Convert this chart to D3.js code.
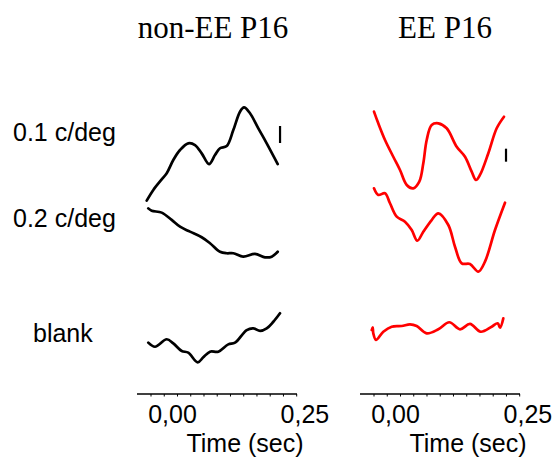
<!DOCTYPE html>
<html><head><meta charset="utf-8">
<script src="https://cdn.jsdelivr.net/npm/d3@7"></script>
<style>html,body{margin:0;padding:0;background:#fff;}</style>
</head><body>
<svg id="c" width="555" height="458"></svg>
<script>
// ---- data (time in s, amplitude in µV) ----
const panelTitles = ["non-EE P16", "EE P16"];
const rowLabels = ["0.1 c/deg", "0.2 c/deg", "blank"];
const tickLabels = ["0,00", "0,25"];
const tickValues = [0, 0.25];
const axisTitle = "Time (sec)";
const scaleBarUV = 10;

const nonEE_01 = [[-0.0487,-23.9],[-0.0362,-17.6],[-0.0204,-11.4],[-0.0109,-7.8],[0.0015,0],[0.0142,5.9],[0.0298,9.8],[0.0425,8.8],[0.0551,3.9],[0.0689,-2.4],[0.0802,2.9],[0.0897,6.9],[0.1023,8.2],[0.1148,17.6],[0.1274,28.4],[0.1350,31.0],[0.1463,27.5],[0.1620,18.6],[0.1778,9.8],[0.1986,-2.4]];
const nonEE_02 = [[-0.0457,13.9],[-0.0393,12.5],[-0.0204,11.4],[-0.0015,7.1],[0.0142,3.1],[0.0330,0.2],[0.0551,-3.1],[0.0708,-6.6],[0.0897,-11.6],[0.1023,-12.5],[0.1148,-12.5],[0.1336,-14.5],[0.1557,-12.9],[0.1746,-14.9],[0.1873,-14.5],[0.1986,-11.6]];
const nonEE_blank = [[-0.0457,-4.5],[-0.0330,-6.9],[-0.0109,-2.5],[0.0015,-4.9],[0.0174,-9.4],[0.0298,-10.4],[0.0476,-16.1],[0.0581,-13.1],[0.0708,-9.8],[0.0865,-9.8],[0.1053,-5.5],[0.1180,-4.5],[0.1401,2.9],[0.1525,3.9],[0.1652,2.4],[0.1778,3.9],[0.1903,7.8],[0.2029,12.8]];
const EE_01 = [[-0.0406,37.2],[-0.0325,28.2],[-0.0198,15.4],[-0.0042,2.5],[0.0085,-7.7],[0.0212,-19.2],[0.0336,-21.8],[0.0449,-16.7],[0.0525,-2.5],[0.0589,15.4],[0.0683,26.9],[0.0808,28.2],[0.0966,24.4],[0.1155,10.2],[0.1312,2.5],[0.1438,-9.0],[0.1519,-15.4],[0.1595,-11.5],[0.1752,5.2],[0.1910,24.4],[0.2048,33.3]];
const EE_02 = [[-0.0406,33.6],[-0.0325,28.5],[-0.0198,29.8],[-0.0104,22.1],[0.0023,11.8],[0.0179,7.9],[0.0306,1.5],[0.0412,-6.7],[0.0525,0.2],[0.0683,9.2],[0.0808,14.4],[0.0997,5.4],[0.1123,-11.3],[0.1250,-24.1],[0.1406,-24.6],[0.1563,-30.5],[0.1689,-22.8],[0.1878,1.5],[0.2067,22.5]];
const EE_blank = [[-0.0449,3.8],[-0.0430,5.8],[-0.0419,1.3],[-0.0368,-3.8],[-0.0230,2.5],[-0.0072,6.4],[0.0117,6.9],[0.0274,8.2],[0.0400,6.9],[0.0589,1.3],[0.0808,4.4],[0.1016,9.8],[0.1218,4.4],[0.1406,8.5],[0.1608,2.5],[0.1816,6.4],[0.1929,9.0],[0.1973,5.6],[0.2035,12.8]];

const panels = [
  {title: panelTitles[0], color: "#000000", traces: [nonEE_01, nonEE_02, nonEE_blank], x0: 137, pxPerUV: 1.7, bar: [0.203, 10], titleX: 213, axX: 245},
  {title: panelTitles[1], color: "#ff0000", traces: [EE_01, EE_02, EE_blank], x0: 360, pxPerUV: 1.3, bar: [0.2086, -1.3], titleX: 445, axX: 468}
];
const rowCenters = [160, 232, 335];
const axisY = 394;
const timeDomain = [-0.067, 0.235];
const axisWidth = 160;

const svg = d3.select("#c");

// row labels
const labelBaselines = [141, 227, 342];
rowLabels.forEach((t, i) => {
  svg.append("text").attr("x", i < 2 ? 13 : 33).attr("y", labelBaselines[i])
    .attr("font-family", "Liberation Sans, Arial, sans-serif").attr("font-size", 25)
    .attr("fill", "#000").text(t);
});

panels.forEach(p => {
  const x = d3.scaleLinear().domain(timeDomain).range([p.x0, p.x0 + axisWidth]);

  // title
  svg.append("text").attr("x", p.titleX).attr("y", 38).attr("text-anchor", "middle")
    .attr("font-family", "Liberation Serif, Times New Roman, serif").attr("font-size", 31)
    .text(p.title);

  // traces
  p.traces.forEach((tr, i) => {
    const y = d3.scaleLinear().domain([-1, 1]).range([rowCenters[i] + p.pxPerUV, rowCenters[i] - p.pxPerUV]);
    const line = d3.line().x(d => x(d[0])).y(d => y(d[1])).curve(d3.curveCatmullRom.alpha(0.5));
    svg.append("path").datum(tr).attr("d", line).attr("fill", "none")
      .attr("stroke", p.color).attr("stroke-width", 2.7)
      .attr("stroke-linejoin", "round").attr("stroke-linecap", "round");
  });

  // scale bar (10 µV)
  const y0 = d3.scaleLinear().domain([-1, 1]).range([rowCenters[0] + p.pxPerUV, rowCenters[0] - p.pxPerUV]);
  svg.append("line").attr("x1", x(p.bar[0])).attr("x2", x(p.bar[0]))
    .attr("y1", y0(p.bar[1])).attr("y2", y0(p.bar[1] + scaleBarUV))
    .attr("stroke", "#000").attr("stroke-width", 2.2);

  // axis
  const g = svg.append("g").attr("transform", `translate(0,${axisY})`);
  g.append("line").attr("x1", p.x0).attr("x2", p.x0 + axisWidth).attr("stroke", "#000").attr("stroke-width", 1.4);
  const minor = d3.range(-0.05, 0.2251, 0.025);
  g.selectAll("line.t").data(minor).join("line").attr("class", "t")
    .attr("x1", d => x(d) + 5).attr("x2", d => x(d) + 5).attr("y1", 0).attr("y2", 2.5)
    .attr("stroke", "#000").attr("stroke-width", 1);
  g.selectAll("text.tl").data(tickValues).join("text").attr("class", "tl")
    .attr("x", d => x(d)).attr("y", 29).attr("text-anchor", "middle")
    .attr("font-family", "Liberation Sans, Arial, sans-serif").attr("font-size", 25)
    .text((d, i) => tickLabels[i]);
  g.append("text").attr("x", p.axX).attr("y", 57.5).attr("text-anchor", "middle")
    .attr("font-family", "Liberation Sans, Arial, sans-serif").attr("font-size", 25)
    .text(axisTitle);
});
</script>
</body></html>
